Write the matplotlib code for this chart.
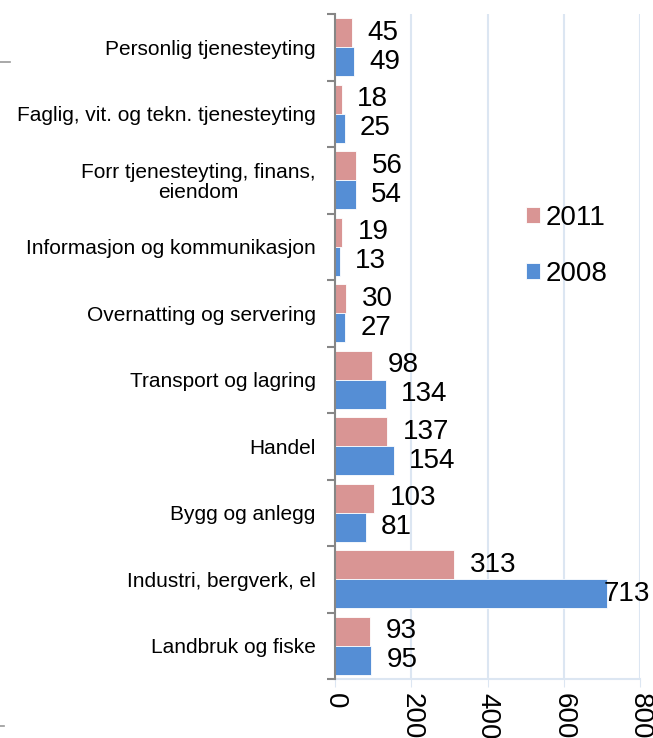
import matplotlib
matplotlib.use("Agg")
import matplotlib.pyplot as plt
from matplotlib.lines import Line2D
import numpy as np

plt.rcParams['font.family'] = ['Liberation Sans', 'DejaVu Sans']

categories = ["Landbruk og fiske", "Industri, bergverk, el", "Bygg og anlegg", "Handel",
              "Transport og lagring", "Overnatting og servering",
              "Informasjon og kommunikasjon", "Forr tjenesteyting, finans,\neiendom",
              "Faglig, vit. og tekn. tjenesteyting", "Personlig tjenesteyting"]
v2011 = [93, 313, 103, 137, 98, 30, 19, 56, 18, 45]
v2008 = [95, 713, 81, 154, 134, 27, 13, 54, 25, 49]
xticks = [0, 200, 400, 600, 800]

c2011 = "#d99594"
c2008 = "#558ed5"
grid_c = "#dce6f2"

fig = plt.figure(figsize=(6.53, 7.38), dpi=100)
ax = fig.add_axes([335/653, 1-679/738, 305/653, (679-14)/738])

y = np.arange(len(categories))
bh = 0.436
b1 = ax.barh(y + bh/2, v2011, height=bh, color=c2011, edgecolor="white", linewidth=0.6, label="2011", zorder=3)
b2 = ax.barh(y - bh/2, v2008, height=bh, color=c2008, edgecolor="white", linewidth=0.6, label="2008", zorder=3)

ax.set_xlim(0, 800)
ax.set_ylim(-0.5, len(categories) - 0.5)
ax.set_xticks(xticks)
ax.set_xticklabels([str(t) for t in xticks], rotation=270, fontsize=20)
ax.tick_params(axis='x', length=6, color=grid_c, pad=4)
ax.xaxis.grid(True, color=grid_c, linewidth=1.5, zorder=0)

ax.set_yticks(y)
ax.set_yticklabels(categories, fontsize=15, linespacing=1.05, multialignment='center')
ax.tick_params(axis='y', which='major', length=0, pad=14)
ax.set_yticks(np.arange(-0.5, len(categories), 1.0), minor=True)
ax.tick_params(axis='y', which='minor', length=6, color="#868686", width=1.5)

for s in ['top', 'right']:
    ax.spines[s].set_visible(False)
ax.spines['bottom'].set_color(grid_c)
ax.spines['bottom'].set_linewidth(1.5)
ax.spines['left'].set_color("#868686")
ax.spines['left'].set_linewidth(1.5)
ax.spines['left'].set_zorder(4)

for vals, off in ((v2011, bh/2), (v2008, -bh/2)):
    for i, v in enumerate(vals):
        if v > 650:
            ax.annotate(str(v), xy=(v, i + off), xytext=(-2, 0), textcoords="offset points",
                        ha="left", va="center", fontsize=20, annotation_clip=False, zorder=5)
        else:
            ax.annotate(str(v), xy=(v, i + off), xytext=(11, 0), textcoords="offset points",
                        ha="left", va="center", fontsize=20, annotation_clip=False, zorder=5)

leg = ax.legend(handles=[b1, b2], labels=["2011", "2008"], loc="center left",
                bbox_to_anchor=((526-335)/305, 1-(246-14)/665), frameon=False, fontsize=20,
                handlelength=0.5, handleheight=0.5, handletextpad=0.2, labelspacing=1.1,
                borderpad=0, borderaxespad=0)

fig.add_artist(Line2D([0, 10/653], [1-62/738, 1-62/738], color="#999999", linewidth=1.2))
fig.add_artist(Line2D([0, 4/653], [1-726/738, 1-726/738], color="#999999", linewidth=1.2))

fig.savefig("out.png", dpi=100)
